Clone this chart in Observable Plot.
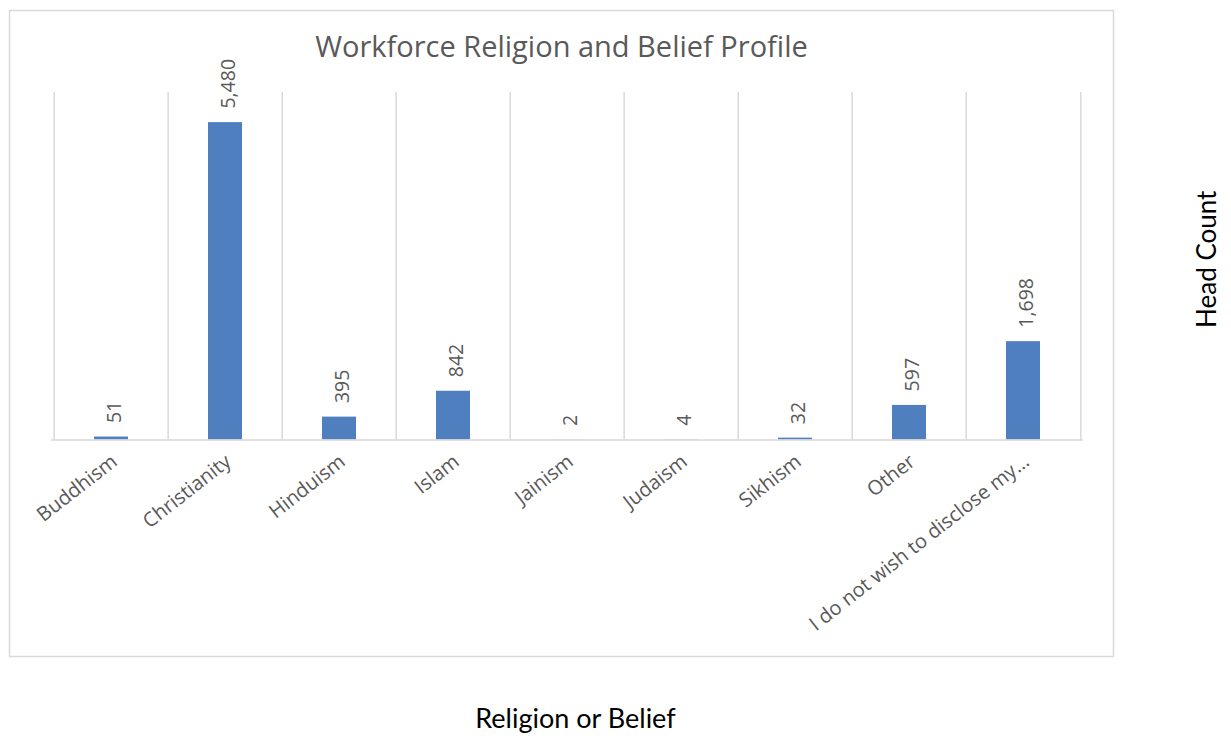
<!DOCTYPE html>
<html>
<head>
<meta charset="utf-8">
<script src="https://cdn.jsdelivr.net/npm/d3@7"></script>
<script src="https://cdn.jsdelivr.net/npm/@observablehq/plot@0.6"></script>
<style>
  html, body { margin: 0; padding: 0; background: #fff; }
  #chart { width: 1231px; height: 736px; }
</style>
</head>
<body>
<div id="chart"></div>
<script>
const categories = ["Buddhism", "Christianity", "Hinduism", "Islam", "Jainism", "Judaism", "Sikhism", "Other", "I do not wish to disclose my…"];
const headCounts = [51, 5480, 395, 842, 2, 4, 32, 597, 1698];
const titleText = "Workforce Religion and Belief Profile";
const xTitle = "Religion or Belief";
const yTitle = "Head Count";
const yDomain = [0, 6000];

const data = categories.map((c, i) => ({category: c, value: headCounts[i]}));

const W = 1231, H = 736;
const mL = 51, mR = W - 1083, mT = 92, mB = H - 439.5;
const step = (W - mL - mR) / categories.length;

const gridColor = "#d9d9d9";
const textGray = "#595959";
const chartFont = "'Open Sans', sans-serif";
const axisFont = "Lato, 'Noto Sans', sans-serif";

const chart = Plot.plot({
  width: W,
  height: H,
  marginLeft: mL,
  marginRight: mR,
  marginTop: mT,
  marginBottom: mB,
  style: {fontFamily: chartFont, background: "white", overflow: "visible"},
  x: {domain: categories, padding: 0, axis: null},
  y: {domain: yDomain, axis: null},
  marks: [
    Plot.frame({stroke: gridColor, strokeWidth: 1.5, insetLeft: -42, insetTop: -82, insetRight: -30, insetBottom: -216.5}),
    Plot.ruleX(categories, {x: d => d, y1: yDomain[0], y2: yDomain[1], dx: -step / 2, stroke: gridColor, strokeWidth: 1.5}),
    Plot.ruleX([categories[categories.length - 1]], {x: d => d, y1: yDomain[0], y2: yDomain[1], dx: step / 2, stroke: gridColor, strokeWidth: 1.5}),
    Plot.barY(data, {x: "category", y: "value", fill: "#4f7fbe", insetLeft: 40, insetRight: 40}),
    Plot.ruleY([0], {stroke: gridColor, strokeWidth: 1.5}),
    Plot.text(data, {
      x: "category", y: "value", text: d => d3.format(",")(d.value),
      rotate: -90, textAnchor: "start", lineAnchor: "middle", dy: -14, dx: 3,
      fontSize: 19.5, fill: textGray
    }),
    Plot.text(categories, {
      x: d => d, frameAnchor: "bottom", text: d => d,
      rotate: -38, textAnchor: "end", lineAnchor: "bottom", dx: 7, dy: 24,
      fontSize: 20, fill: textGray
    }),
    Plot.text([titleText], {
      frameAnchor: "top", text: d => d, textAnchor: "middle", lineAnchor: "middle",
      dx: -6, dy: -45,
      fontSize: 29, fill: textGray
    }),
    Plot.text([yTitle], {
      frameAnchor: "right", text: d => d, rotate: -90, textAnchor: "middle", lineAnchor: "middle",
      dx: 124, dy: -7,
      fontSize: 26, fill: "#000", fontFamily: axisFont
    }),
    Plot.text([xTitle], {
      frameAnchor: "bottom", text: d => d, textAnchor: "middle", lineAnchor: "middle",
      dx: 8, dy: 279,
      fontSize: 27, fill: "#000", fontFamily: axisFont
    })
  ]
});

document.getElementById("chart").appendChild(chart);
</script>
</body>
</html>
